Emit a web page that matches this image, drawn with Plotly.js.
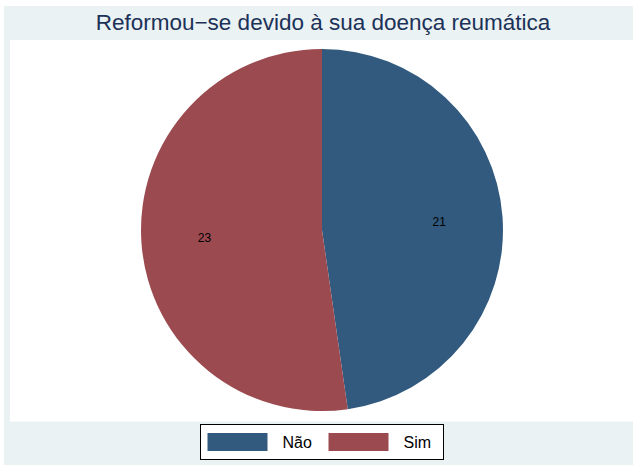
<!DOCTYPE html>
<html>
<head>
<meta charset="utf-8">
<script src="https://cdn.plot.ly/plotly-3.0.1.min.js"></script>
<style>html,body{margin:0;padding:0;background:#fff}</style>
</head>
<body>
<div id="plot" style="width:633px;height:465px"></div>
<script>
const labels = ["Não", "Sim"];
const counts = [21, 23];
const sliceColors = ["#325a7f", "#9b4a50"];
const chartTitle = "Reformou−se devido à sua doença reumática";

const W = 633, H = 465;
const px = x => x / W;
const py = y => 1 - y / H;
const font = "Liberation Sans, Arial, Helvetica, sans-serif";

// pie centre + radius in pixels
const cx = 322, cy = 230, r = 181;
const pieDomain = { x: [px(cx - r), px(cx + r)], y: [py(cy + r), py(cy - r)] };

const pie = {
  type: "pie",
  labels: labels,
  values: counts,
  sort: false,
  direction: "clockwise",
  rotation: 0,
  marker: { colors: sliceColors, line: { width: 0 } },
  textinfo: "none",
  hoverinfo: "label+value",
  domain: pieDomain
};

// transparent ring on top, only carries the counts (ring puts them at ~0.65 r like Stata does)
const valueRing = {
  type: "pie",
  labels: labels,
  values: counts,
  sort: false,
  direction: "clockwise",
  rotation: 0,
  hole: 0.3,
  marker: { colors: ["rgba(0,0,0,0)", "rgba(0,0,0,0)"], line: { width: 0 } },
  textinfo: "value",
  textposition: "inside",
  insidetextorientation: "horizontal",
  textfont: { family: font, size: 12, color: "#000" },
  showlegend: false,
  hoverinfo: "skip",
  domain: pieDomain
};

const layout = {
  width: W,
  height: H,
  margin: { l: 0, r: 0, t: 0, b: 0 },
  paper_bgcolor: "#fff",
  font: { family: font },
  title: {
    text: chartTitle,
    x: px(323), xanchor: "center",
    y: py(22), yanchor: "middle",
    font: { family: font, size: 22.5, color: "#1c3158" }
  },
  shapes: [
    { type: "rect", xref: "paper", yref: "paper", x0: px(4), x1: 1, y0: 0, y1: py(6),
      fillcolor: "#eaf2f3", line: { width: 0 }, layer: "below" },
    { type: "rect", xref: "paper", yref: "paper", x0: px(10), x1: 1, y0: py(421.5), y1: py(40),
      fillcolor: "#fff", line: { width: 0 }, layer: "below" }
  ],
  showlegend: true,
  legend: {
    orientation: "h",
    x: px(321.5), xanchor: "center",
    y: py(442), yanchor: "middle",
    bgcolor: "#fff",
    bordercolor: "#000",
    borderwidth: 1,
    itemwidth: 72,
    entrywidth: 34,
    font: { family: font, size: 16, color: "#000" }
  }
};

Plotly.newPlot("plot", [pie, valueRing], layout, { displayModeBar: false }).then(gd => {
  // stata style wide legend keys
  gd.querySelectorAll(".legendpoints path.legendpie").forEach(p => p.setAttribute("d", "M26,9H-34V-9H26Z"));
});
</script>
</body>
</html>
